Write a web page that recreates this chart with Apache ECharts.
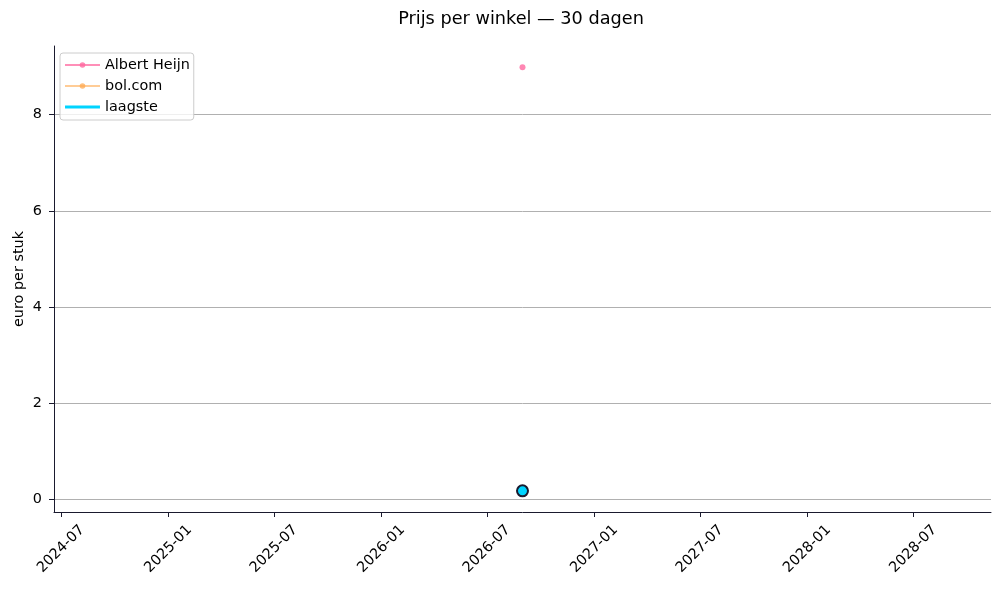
<!DOCTYPE html>
<html>
<head>
<meta charset="utf-8">
<script src="https://cdn.jsdelivr.net/npm/echarts@6/dist/echarts.min.js"></script>
<style>
  html, body { margin: 0; padding: 0; background: #fff; }
  #chart { width: 1001px; height: 590px; }
</style>
</head>
<body>
<div id="chart"></div>
<script>
// data
const seriesNames = ['Albert Heijn', 'bol.com', 'laagste'];
const albertHeijnDates = ['2026-08-31'];
const albertHeijnPrices = [8.99];
const bolDates = ['2026-08-31'];
const bolPrices = [0.17];
const lowestDates = ['2026-08-31'];
const lowestPrices = [0.17];

const xTickLabels = ['2024-07', '2025-01', '2025-07', '2026-01', '2026-07',
    '2027-01', '2027-07', '2028-01', '2028-07'];
const yTicks = [0, 2, 4, 6, 8];
const xRange = ['2024-06-19', '2028-11-11'];
const yRange = [-0.27, 9.43];

const FONT = 'DejaVu Sans';
const AXIS_COLOR = '#1a1a2e';
const TICK_FONT = 14.4;

// dates are placed on a plain value axis (ms), labels come from xTickLabels
const toTime = (s) => Date.parse(s + (s.length === 7 ? '-01' : '') + 'T00:00:00Z');
const pairs = (dates, vals) => dates.map((d, i) => [toTime(d), vals[i]]);
const xTickValues = xTickLabels.map(toTime);

const chart = echarts.init(document.getElementById('chart'));

const option = {
    animation: false,
    backgroundColor: '#fff',
    textStyle: { fontFamily: FONT },
    title: {
        text: 'Prijs per winkel — 30 dagen',
        // centred over the plot area, not the canvas
        left: 516,
        textAlign: 'center',
        top: 5,
        textStyle: { fontFamily: FONT, fontSize: 17.7, fontWeight: 'normal', color: '#000' },
    },
    grid: { left: 54, right: 10, top: 46, bottom: 78, outerBoundsMode: 'none' },
    legend: {
        orient: 'vertical',
        left: 60,
        top: 53,
        padding: [5, 4, 6, 4],
        itemWidth: 35,
        itemHeight: 7,
        itemGap: 7,
        backgroundColor: 'rgba(255,255,255,0.8)',
        borderColor: '#cccccc',
        borderWidth: 1,
        borderRadius: 3,
        textStyle: { fontFamily: FONT, fontSize: TICK_FONT, color: '#000' },
        data: [
            { name: seriesNames[0] },
            { name: seriesNames[1] },
            {
                name: seriesNames[2],
                icon: 'path://M0,2H35V5H0Z M0,0H0.01V0.01H0Z M0,7H0.01V7.01H0Z',
                itemStyle: { color: '#00d4ff', borderWidth: 0 },
            },
        ],
    },
    xAxis: {
        type: 'value',
        min: toTime(xRange[0]),
        max: toTime(xRange[1]),
        splitLine: { show: false },
        axisLine: { onZero: false, lineStyle: { color: AXIS_COLOR, width: 1 } },
        axisTick: {
            show: true,
            length: 5,
            inside: false,
            customValues: xTickValues,
            lineStyle: { color: AXIS_COLOR },
        },
        axisLabel: {
            customValues: xTickValues,
            rotate: 45,
            align: 'center',
            verticalAlign: 'middle',
            margin: 37,
            fontFamily: FONT,
            fontSize: TICK_FONT,
            color: '#000',
            formatter: (v) => xTickLabels[xTickValues.indexOf(v)] || '',
        },
    },
    yAxis: {
        type: 'value',
        min: yRange[0],
        max: yRange[1],
        name: 'euro per stuk',
        nameLocation: 'middle',
        nameGap: 28,
        nameMoveOverlap: false,
        nameTextStyle: { fontFamily: FONT, fontSize: TICK_FONT, color: '#000' },
        axisLine: { show: true, lineStyle: { color: AXIS_COLOR, width: 1 } },
        axisTick: {
            show: true,
            length: 5,
            customValues: yTicks,
            lineStyle: { color: AXIS_COLOR },
        },
        axisLabel: {
            customValues: yTicks,
            margin: 12,
            fontFamily: FONT,
            fontSize: TICK_FONT,
            color: '#000',
        },
        splitLine: { show: true, lineStyle: { color: '#b0b0b0', width: 1 } },
    },
    series: [
        {
            name: seriesNames[0],
            type: 'line',
            data: pairs(albertHeijnDates, albertHeijnPrices),
            color: 'rgba(255,105,160,0.8)',
            symbol: 'circle',
            symbolSize: 6,
            showSymbol: true,
            lineStyle: { width: 1.5, color: 'rgba(255,105,160,0.75)' },
            itemStyle: { color: 'rgba(255,105,160,0.8)' },
            z: 2,
        },
        {
            name: seriesNames[1],
            type: 'line',
            data: pairs(bolDates, bolPrices),
            color: 'rgba(255,170,80,0.75)',
            symbol: 'circle',
            symbolSize: 6,
            showSymbol: true,
            lineStyle: { width: 1.5, color: 'rgba(255,170,80,0.6)' },
            itemStyle: { color: 'rgba(255,170,80,0.75)' },
            z: 2,
        },
        {
            name: seriesNames[2],
            type: 'line',
            data: pairs(lowestDates, lowestPrices),
            color: '#00d4ff',
            symbol: 'circle',
            symbolSize: 11,
            showSymbol: true,
            lineStyle: { width: 3, color: '#00d4ff' },
            itemStyle: { color: '#00d4ff', borderColor: AXIS_COLOR, borderWidth: 2 },
            z: 3,
        },
    ],
};

chart.setOption(option);
window.addEventListener('resize', chart.resize);
</script>
</body>
</html>
